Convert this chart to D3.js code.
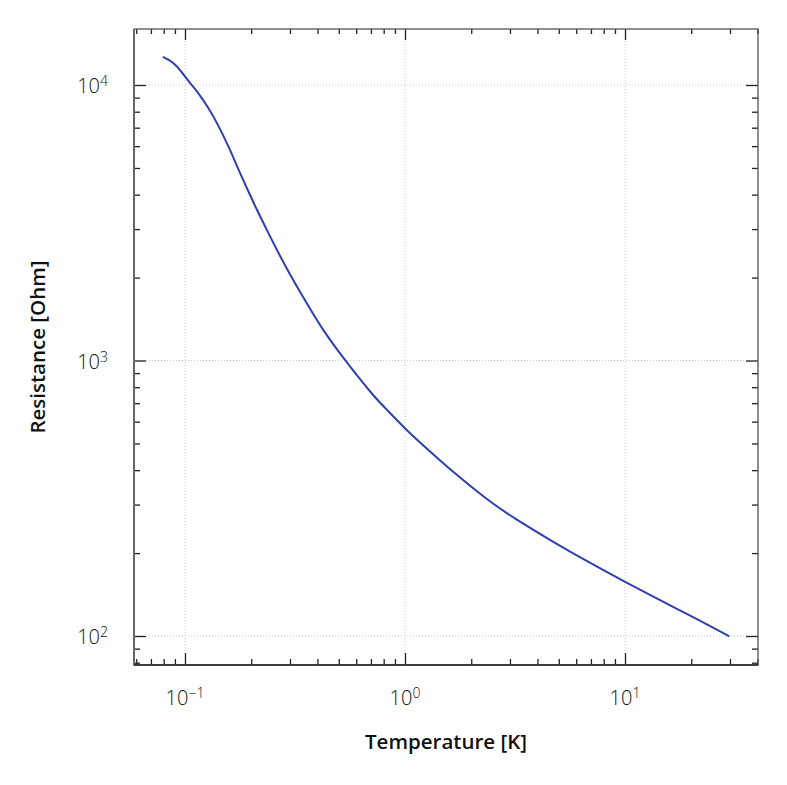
<!DOCTYPE html>
<html>
<head>
<meta charset="utf-8">
<script src="https://cdn.jsdelivr.net/npm/d3@7"></script>
<style>
  body { margin: 0; background: #fff; }
  text { font-family: "Open Sans", "Noto Sans", sans-serif; }
</style>
</head>
<body>
<script>
var width = 787;
var height = 785;
var margin = { top: 29, right: 29, bottom: 120, left: 134 };

// temperature (K) and resistance (Ohm)
var temperature = [0.0792, 0.0855, 0.0917, 0.1, 0.1073, 0.117, 0.1276, 0.1393, 0.1602,
    0.1747, 0.1908, 0.2118, 0.2351, 0.2655, 0.300, 0.345, 0.425,
    0.534, 0.718, 0.855, 1.0, 1.3,
    1.658, 2.351, 3.107, 4.644, 6.70, 10.18, 14.42, 21.18, 29.79];
var resistance = [12660, 12300, 11770, 10740, 10000, 9175, 8265, 7350, 5835,
    4935, 4237, 3532, 2988, 2460, 2052, 1693, 1278,
    1002, 742, 646, 565, 467,
    393, 313, 268.5, 221.2, 186.9, 156, 134.9, 115.3, 99.8];

var xMajor = [0.1, 1, 10];
var xMajorExp = ["\u22121", "0", "1"];
var yMajor = [100, 1000, 10000];
var yMajorExp = ["2", "3", "4"];

var xDomain = [0.05864, 40.22];
var yDomain = [78.49, 15970];

var w = width - margin.left - margin.right;
var h = height - margin.top - margin.bottom;

var svg = d3.select("body").append("svg").attr("width", width).attr("height", height);
var g = svg.append("g").attr("transform", "translate(" + margin.left + "," + margin.top + ")");

var x = d3.scaleLog().domain(xDomain).range([0, w]);
var y = d3.scaleLog().domain(yDomain).range([h, 0]);

var xMinor = x.ticks().filter(function (d) { return xMajor.indexOf(d) < 0; });
var yMinor = y.ticks().filter(function (d) { return yMajor.indexOf(d) < 0; });

// dotted grid at major ticks
g.selectAll(".gx").data(xMajor).enter().append("line")
    .attr("x1", function (d) { return x(d); }).attr("x2", function (d) { return x(d); })
    .attr("y1", 0).attr("y2", h)
    .attr("stroke", "#c8c8c8").attr("stroke-width", 1).attr("stroke-dasharray", "1,2");
g.selectAll(".gy").data(yMajor).enter().append("line")
    .attr("y1", function (d) { return y(d); }).attr("y2", function (d) { return y(d); })
    .attr("x1", 0).attr("x2", w)
    .attr("stroke", "#c8c8c8").attr("stroke-width", 1).attr("stroke-dasharray", "1,2");

// inward ticks on all four sides
function ticks(axisFn, scale, vals, len, tr) {
    var a = g.append("g").attr("transform", tr)
        .call(axisFn(scale).tickValues(vals).tickSizeInner(-len).tickSizeOuter(0).tickFormat(""));
    a.select(".domain").remove();
    a.selectAll("line").attr("stroke", "#222").attr("stroke-width", 1.3);
    return a;
}
ticks(d3.axisBottom, x, xMajor, 12, "translate(0," + h + ")");
ticks(d3.axisBottom, x, xMinor, 6, "translate(0," + h + ")");
ticks(d3.axisTop, x, xMajor, 11, "translate(0,0)");
ticks(d3.axisTop, x, xMinor, 5, "translate(0,0)");
ticks(d3.axisLeft, y, yMajor, 12, "translate(0,0)");
ticks(d3.axisLeft, y, yMinor, 6, "translate(0,0)");
ticks(d3.axisRight, y, yMajor, 12, "translate(" + w + ",0)");
ticks(d3.axisRight, y, yMinor, 6, "translate(" + w + ",0)");

// frame
g.append("rect").attr("x", 0).attr("y", 0).attr("width", w).attr("height", h)
    .attr("fill", "none").attr("stroke", "#555").attr("stroke-width", 1.3);
g.append("line").attr("x1", 0).attr("x2", 0).attr("y1", 0).attr("y2", h)
    .attr("stroke", "#666").attr("stroke-width", 2);
g.append("line").attr("x1", 0).attr("x2", w).attr("y1", h).attr("y2", h)
    .attr("stroke", "#222").attr("stroke-width", 1.5);

// tick labels with superscripts
var xl = g.selectAll(".xl").data(xMajor).enter().append("text")
    .attr("x", function (d) { return x(d); }).attr("y", h + 40)
    .attr("text-anchor", "middle").attr("fill", "#111")
    .style("font-size", "20px").style("font-weight", 300);
xl.append("tspan").text("10");
xl.append("tspan").attr("dy", -7).style("font-size", "14px")
    .text(function (d, i) { return xMajorExp[i]; });

var yl = g.selectAll(".yl").data(yMajor).enter().append("text")
    .attr("x", -26).attr("y", function (d) { return y(d) + 8; })
    .attr("text-anchor", "end").attr("fill", "#111")
    .style("font-size", "20px").style("font-weight", 300);
yl.append("tspan").text("10");
yl.append("tspan").attr("dy", -7).style("font-size", "14px")
    .text(function (d, i) { return yMajorExp[i]; });

// axis titles
svg.append("text").attr("x", margin.left + w / 2).attr("y", 749)
    .attr("text-anchor", "middle").attr("fill", "#111")
    .style("font-size", "20.5px").style("font-weight", 600)
    .text("Temperature [K]");
svg.append("text").attr("transform", "translate(45," + (margin.top + h / 2) + ") rotate(-90)")
    .attr("text-anchor", "middle").attr("fill", "#111")
    .style("font-size", "20.5px").style("font-weight", 600)
    .text("Resistance [Ohm]");

// curve
var pts = temperature.map(function (t, i) { return [t, resistance[i]]; });
var line = d3.line()
    .x(function (d) { return x(d[0]); })
    .y(function (d) { return y(d[1]); })
    .curve(d3.curveBasis);
g.append("path").datum(pts).attr("d", line)
    .attr("fill", "none").attr("stroke", "#2e40b0").attr("stroke-width", 2);
</script>
</body>
</html>
